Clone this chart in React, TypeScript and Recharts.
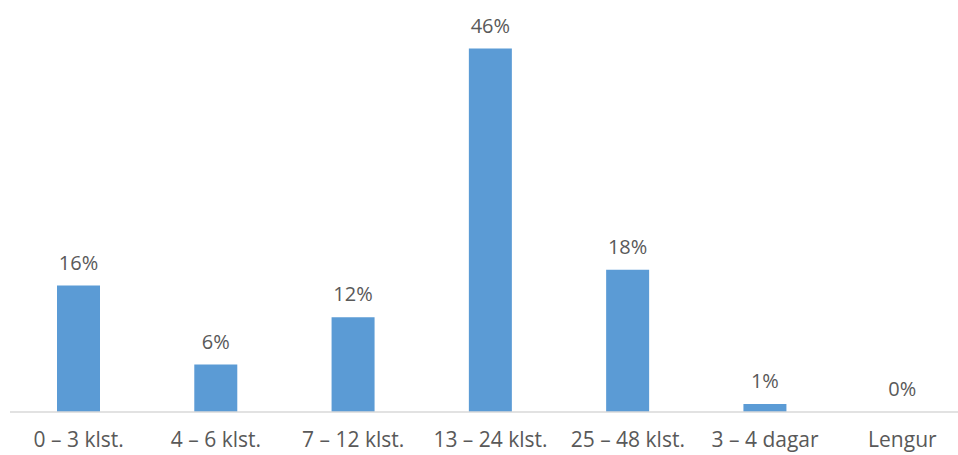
import React from "react";
import { BarChart, Bar, XAxis, YAxis, LabelList } from "recharts";

const categories = ["0 – 3 klst.", "4 – 6 klst.", "7 – 12 klst.", "13 – 24 klst.", "25 – 48 klst.", "3 – 4 dagar", "Lengur"];
const values = [16, 6, 12, 46, 18, 1, 0];

const data = categories.map((c, i) => ({ name: c, value: values[i], cap: 0.001 }));

const font = "'Open Sans', sans-serif";

export default function App() {
  return (
    <div style={{ position: "absolute", left: 0, top: 0, width: 958, height: 455, overflow: "hidden", background: "#fff" }}>
      <BarChart width={980} height={455} data={data} margin={{ top: 17, right: 9, bottom: 0, left: 10 }}>
        <XAxis
          dataKey="name"
          height={43}
          tickLine={false}
          tickSize={6}
          tickMargin={14}
          axisLine={{ stroke: "#d9d9d9", strokeWidth: 1.5 }}
          tick={{ fill: "#595959", fontSize: 21, fontFamily: font }}
          interval={0}
        />
        <YAxis hide domain={[0, 50]} />
        <Bar dataKey="value" stackId="s" fill="#5b9bd5" barSize={43} isAnimationActive={false} />
        <Bar dataKey="cap" stackId="s" fill="transparent" barSize={43} isAnimationActive={false}>
          <LabelList
            dataKey="value"
            position="top"
            offset={16}
            formatter={(v: number) => `${v}%`}
            style={{ fill: "#595959", fontSize: 20, fontFamily: font }}
          />
        </Bar>
      </BarChart>
    </div>
  );
}
